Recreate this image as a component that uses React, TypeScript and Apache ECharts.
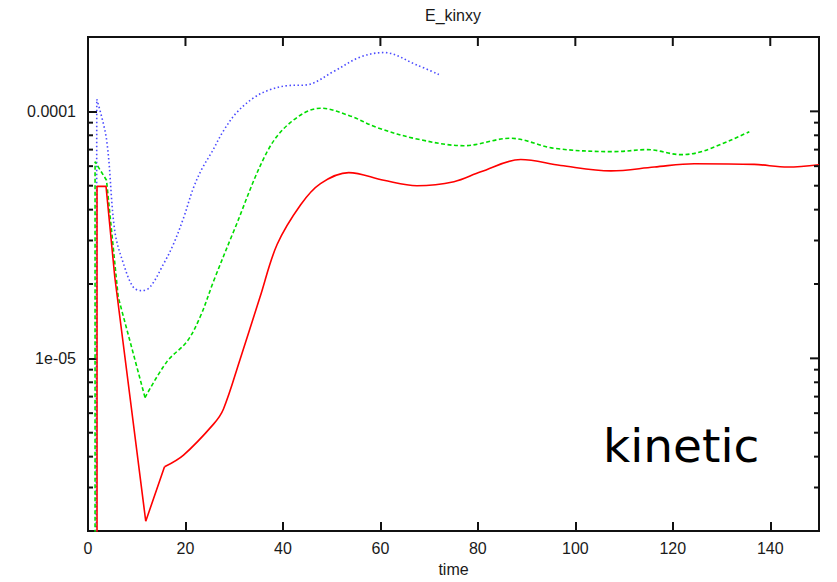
import React, { useEffect, useRef } from "react";
import * as echarts from "echarts";

const X_MIN = 0;
const X_MAX = 150;
const Y_MIN = 2e-6;
const Y_MAX = 2e-4;

const redT = [1.85, 1.85, 3.7, 5.5, 11.85, 15.7, 19.6, 25.8, 27.8, 31.2, 35.3, 38.8, 43.6, 47.7, 53.5, 60.7, 67.5, 75.1, 80.6, 88.8, 97, 107.3, 116.2, 124.4, 136.7, 143.6, 150];
const redV = [1e-12, 4.97e-5, 4.97e-5, 2.13e-5, 2.19e-6, 3.64e-6, 4.06e-6, 5.43e-6, 6.24e-6, 9.9e-6, 1.77e-5, 2.89e-5, 4.18e-5, 5.1e-5, 5.65e-5, 5.26e-5, 5.0e-5, 5.19e-5, 5.69e-5, 6.38e-5, 6.04e-5, 5.74e-5, 5.95e-5, 6.14e-5, 6.1e-5, 5.95e-5, 6.08e-5];
const redBreak = 5; // index where the straight early part ends and the smooth part begins

const greenT = [1.45, 1.45, 3.8, 6.2, 11.7, 16.2, 20.3, 23, 25.8, 29.9, 36.7, 41.5, 47.7, 53.8, 59.3, 67.5, 77.1, 86.7, 95.6, 108, 114.8, 121.7, 126.5, 135.7];
const greenV = [1e-12, 6.25e-5, 5.26e-5, 1.77e-5, 6.94e-6, 9.7e-6, 1.17e-5, 1.47e-5, 2.06e-5, 3.27e-5, 6.83e-5, 9.0e-5, 1.03e-4, 9.58e-5, 8.6e-5, 7.73e-5, 7.26e-5, 7.78e-5, 7.09e-5, 6.87e-5, 7.0e-5, 6.68e-5, 6.93e-5, 8.27e-5];
const greenBreak = 4;

const blueT = [1.3, 1.8, 3.8, 5.5, 7.3, 9.3, 11.0, 12.7, 15.5, 17.5, 19.6, 21.6, 23.4, 25.4, 27.8, 30.5, 34.0, 37.4, 40.8, 44.9, 50.4, 55.9, 60.7, 67.5, 72];
const blueV = [1e-12, 1.12e-4, 7.7e-5, 3.27e-5, 2.41e-5, 1.94e-5, 1.88e-5, 1.94e-5, 2.41e-5, 2.89e-5, 3.7e-5, 4.88e-5, 5.86e-5, 6.84e-5, 8.34e-5, 9.88e-5, 1.135e-4, 1.225e-4, 1.27e-4, 1.28e-4, 1.45e-4, 1.66e-4, 1.73e-4, 1.54e-4, 1.41e-4];
const blueBreak = 1;

const xTicks = [0, 20, 40, 60, 80, 100, 120, 140];
const yMajorTicks = [1e-5, 1e-4];
const yMinorTicks = [3e-6, 4e-6, 5e-6, 6e-6, 7e-6, 8e-6, 9e-6, 2e-5, 3e-5, 4e-5, 5e-5, 6e-5, 7e-5, 8e-5, 9e-5];

const title = "E_kinxy";
const xName = "time";
const annotation = "kinetic";

const zip = (t: number[], v: number[]) => t.map((x, i) => [x, v[i]]);

const fmtLog = (v: number) => {
  const l = Math.log10(v);
  const e = Math.round(l);
  if (Math.abs(l - e) > 1e-6) return "";
  if (e >= -4) return Math.pow(10, e).toFixed(-e);
  return "1e-" + String(-e).padStart(2, "0");
};

const lineSeries = (name: string, t: number[], v: number[], brk: number, lineStyle: any) => {
  const pts = zip(t, v);
  return [
    { name, type: "line", data: pts.slice(0, brk + 1), showSymbol: false, clip: true, lineStyle },
    { name, type: "line", data: pts.slice(brk), showSymbol: false, clip: true, smooth: 0.35, lineStyle },
  ];
};

const kineticText = {
  type: "text",
  left: 603,
  top: 422,
  z: 10,
  style: { text: annotation, font: "47px 'DejaVu Sans'", fill: "#000" },
};

const FRAME = "#111";
const FRAME_W = 2;

export default function App() {
  const ref = useRef<HTMLDivElement>(null);
  useEffect(() => {
    if (!ref.current) return;
    const chart = echarts.init(ref.current, null, { renderer: "svg" });
    const font = { fontFamily: "Liberation Sans", fontSize: 16, color: "#1a1a1a" };
    chart.setOption({
      animation: false,
      backgroundColor: "#fff",
      title: {
        text: title,
        left: 453,
        top: 7,
        padding: 0,
        textAlign: "center",
        textStyle: { ...font, fontWeight: "normal" },
      },
      grid: {
        left: 88,
        right: 18,
        top: 37,
        bottom: 46,
        containLabel: false,
        show: true,
        borderColor: FRAME,
        borderWidth: FRAME_W,
        backgroundColor: "transparent",
      },
      xAxis: {
        type: "value",
        min: X_MIN,
        max: X_MAX,
        interval: 20,
        axisLine: { show: true, onZero: false, lineStyle: { color: FRAME, width: FRAME_W } },
        axisTick: { show: true, inside: true, length: 9, lineStyle: { color: FRAME, width: FRAME_W } },
        axisLabel: {
          ...font,
          margin: 9,
          showMaxLabel: false,
          formatter: (v: number) => (xTicks.includes(v) ? String(v) : ""),
        },
        splitLine: { show: false },
        name: xName,
        nameLocation: "middle",
        nameGap: 30,
        nameTextStyle: font,
      },
      yAxis: {
        type: "log",
        logBase: 10,
        min: Y_MIN,
        max: Y_MAX,
        axisLine: { show: true, lineStyle: { color: FRAME, width: FRAME_W } },
        axisTick: { show: true, inside: true, length: 9, lineStyle: { color: FRAME, width: FRAME_W } },
        axisLabel: { ...font, margin: 12, showMinLabel: false, showMaxLabel: false, formatter: fmtLog },
        splitLine: { show: false },
      },
      series: [
        ...lineSeries("blue", blueT, blueV, blueBreak, { color: "#4a4aff", width: 1.6, type: [1.5, 2.5] }),
        ...lineSeries("green", greenT, greenV, greenBreak, { color: "#00dd00", width: 1.6, type: [4, 2.5] }),
        ...lineSeries("red", redT, redV, redBreak, { color: "#ff0000", width: 1.6 }),
      ],
      graphic: [kineticText],
    });

    // mirrored frame ticks, positioned through the chart's own scales
    const px = (t: number, v: number) => chart.convertToPixel({ gridIndex: 0 }, [t, v]) as number[];
    const left = px(X_MIN, yMajorTicks[0])[0];
    const right = px(X_MAX, yMajorTicks[0])[0];
    const top = px(X_MIN, Y_MAX)[1];
    const style = { stroke: FRAME, lineWidth: FRAME_W };
    const ticks: any[] = [];
    yMinorTicks.forEach((v) => {
      const y = px(X_MIN, v)[1];
      ticks.push({ type: "line", z: 5, shape: { x1: left, y1: y, x2: left + 5, y2: y }, style });
      ticks.push({ type: "line", z: 5, shape: { x1: right - 5, y1: y, x2: right, y2: y }, style });
    });
    yMajorTicks.forEach((v) => {
      const y = px(X_MIN, v)[1];
      ticks.push({ type: "line", z: 5, shape: { x1: right - 9, y1: y, x2: right, y2: y }, style });
    });
    xTicks.forEach((t) => {
      const x = px(t, yMajorTicks[0])[0];
      ticks.push({ type: "line", z: 5, shape: { x1: x, y1: top, x2: x, y2: top + 9 }, style });
    });
    chart.setOption({ graphic: [kineticText, ...ticks] });

    return () => chart.dispose();
  }, []);
  return (
    <div
      ref={ref}
      style={{ position: "fixed", left: 0, top: 0, width: 837, height: 582 }}
    />
  );
}
